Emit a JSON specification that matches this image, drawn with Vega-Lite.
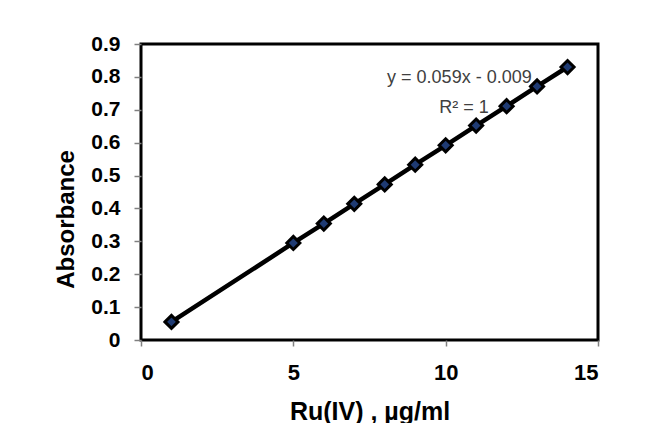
{
  "$schema": "https://vega.github.io/schema/vega-lite/v6.json",
  "width": 457,
  "height": 296,
  "autosize": {"type": "none"},
  "padding": {"left": 141, "top": 44, "right": 52, "bottom": 83},
  "background": "white",
  "config": {
    "view": {"stroke": "black", "strokeWidth": 3}
  },
  "datasets": {
    "points": [
      {"conc": 1, "abs": 0.055},
      {"conc": 5, "abs": 0.295},
      {"conc": 6, "abs": 0.354},
      {"conc": 7, "abs": 0.414},
      {"conc": 8, "abs": 0.473},
      {"conc": 9, "abs": 0.533},
      {"conc": 10, "abs": 0.592},
      {"conc": 11, "abs": 0.652},
      {"conc": 12, "abs": 0.711},
      {"conc": 13, "abs": 0.771},
      {"conc": 14, "abs": 0.830}
    ],
    "labels": [
      {"conc": 10.45, "abs": 0.797, "text": "y = 0.059x - 0.009"},
      {"conc": 10.6, "abs": 0.705, "text": "R² = 1"}
    ]
  },
  "encoding": {
    "x": {
      "field": "conc", "type": "quantitative",
      "scale": {"domain": [0, 15], "nice": false},
      "axis": {
        "values": [0, 5, 10, 15], "title": "Ru(IV) , µg/ml",
        "grid": false, "domain": false, "labelOverlap": false,
        "tickColor": "#808080", "tickSize": 6, "tickWidth": 1.5,
        "labelFont": "Liberation Sans", "labelFontWeight": "bold", "labelFontSize": 22, "labelColor": "black", "labelPadding": 16,
        "titleFont": "Liberation Sans", "titleFontWeight": "bold", "titleFontSize": 25, "titleColor": "black", "titlePadding": 16
      }
    },
    "y": {
      "field": "abs", "type": "quantitative",
      "scale": {"domain": [0, 0.9], "nice": false},
      "axis": {
        "values": [0, 0.1, 0.2, 0.3, 0.4, 0.5, 0.6, 0.7, 0.8, 0.9], "format": ".1~f", "title": "Absorbance",
        "grid": false, "domain": false, "labelOverlap": false,
        "tickColor": "#808080", "tickSize": 7, "tickWidth": 1.5,
        "labelFont": "Liberation Sans", "labelFontWeight": "bold", "labelFontSize": 21, "labelColor": "black", "labelPadding": 14,
        "titleFont": "Liberation Sans", "titleFontWeight": "bold", "titleFontSize": 24, "titleColor": "black", "titlePadding": 12, "titleY": 175
      }
    }
  },
  "layer": [
    {
      "data": {"name": "points"},
      "mark": {"type": "line", "color": "black", "strokeWidth": 4.5}
    },
    {
      "data": {"name": "points"},
      "mark": {"type": "point", "shape": "diamond", "filled": true, "fill": "#1F3B73", "stroke": "black", "strokeWidth": 3, "size": 170, "opacity": 1}
    },
    {
      "data": {"name": "labels"},
      "mark": {"type": "text", "font": "Liberation Sans", "fontSize": 18, "color": "#404040", "align": "center", "baseline": "middle"},
      "encoding": {
        "text": {"field": "text"}
      }
    }
  ]
}
